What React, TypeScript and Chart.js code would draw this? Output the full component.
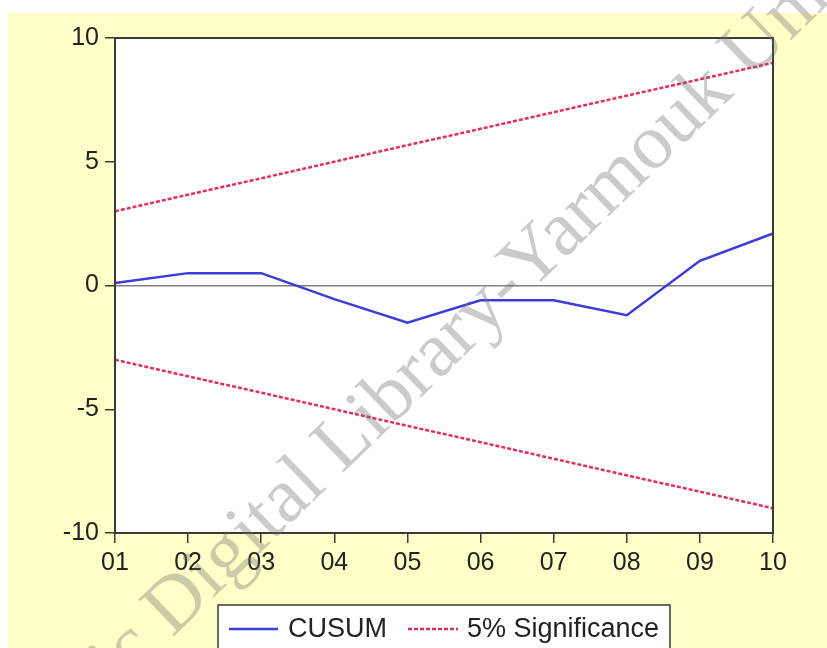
import React, { useEffect, useRef } from "react";
import { Chart, registerables } from "chart.js";

Chart.register(...registerables);

const categories = ["01", "02", "03", "04", "05", "06", "07", "08", "09", "10"];
const cusum = [0.1, 0.5, 0.5, -0.55, -1.5, -0.6, -0.6, -1.2, 1.0, 2.1];
const upper5 = [3.0, 3.67, 4.33, 5.0, 5.67, 6.33, 7.0, 7.67, 8.33, 9.0];
const lower5 = [-3.0, -3.67, -4.33, -5.0, -5.67, -6.33, -7.0, -7.67, -8.33, -9.0];
const yTicks = [-10, -5, 0, 5, 10];
const seriesLabels = ["CUSUM", "5% Significance"];
const watermarkText = ["Arabic ", "Digital Library-Yarmouk University"];

const BLUE = "#3c3cd8";
const RED = "#e0305a";
const FONT = "'Liberation Sans', Arial, sans-serif";

export default function App() {
  const ref = useRef<HTMLCanvasElement | null>(null);

  useEffect(() => {
    const canvas = ref.current;
    if (!canvas) return;

    const bgPlugin = {
      id: "bg",
      beforeDraw(chart: any) {
        const { ctx, chartArea } = chart;
        ctx.save();
        ctx.fillStyle = "#ffffff";
        ctx.fillRect(0, 0, 827, 648);
        ctx.fillStyle = "#ffffc8";
        ctx.fillRect(8, 13, 827, 648);
        ctx.fillStyle = "#ffffff";
        ctx.fillRect(chartArea.left, chartArea.top, chartArea.right - chartArea.left, chartArea.bottom - chartArea.top);
        ctx.restore();
      },
      afterDatasetsDraw(chart: any) {
        const { ctx, chartArea } = chart;
        ctx.save();
        ctx.strokeStyle = "#3a3a3a";
        ctx.lineWidth = 2;
        ctx.strokeRect(chartArea.left, chartArea.top, chartArea.right - chartArea.left, chartArea.bottom - chartArea.top);
        ctx.restore();
      },
      afterDraw(chart: any) {
        const { ctx } = chart;
        const ds = chart.data.datasets;
        // legend
        ctx.save();
        ctx.fillStyle = "#ffffff";
        ctx.fillRect(218, 605, 452, 60);
        ctx.strokeStyle = "#3a3a3a";
        ctx.lineWidth = 1.5;
        ctx.strokeRect(218, 605, 452, 60);
        const ly = 629;
        ctx.lineWidth = 2.5;
        ctx.strokeStyle = ds[0].borderColor;
        ctx.beginPath();
        ctx.moveTo(229, ly);
        ctx.lineTo(278, ly);
        ctx.stroke();
        ctx.strokeStyle = ds[1].borderColor;
        ctx.setLineDash([4, 2]);
        ctx.beginPath();
        ctx.moveTo(408, ly);
        ctx.lineTo(458, ly);
        ctx.stroke();
        ctx.setLineDash([]);
        ctx.fillStyle = "#222";
        ctx.font = `27px ${FONT}`;
        ctx.textBaseline = "middle";
        ctx.fillText(ds[0].label, 288, ly + 1);
        ctx.fillText(ds[1].label, 467, ly + 1);
        ctx.restore();

        // watermark
        ctx.save();
        ctx.translate(172, 638);
        ctx.rotate((-44 * Math.PI) / 180);
        ctx.font = `78px 'Liberation Serif', 'DejaVu Serif', serif`;
        ctx.fillStyle = "rgba(110,110,110,0.36)";
        ctx.textBaseline = "alphabetic";
        ctx.textAlign = "right";
        ctx.fillText(watermarkText[0], 0, 0);
        ctx.textAlign = "left";
        ctx.fillText(watermarkText[1], 0, 0);
        ctx.restore();
      },
    };

    const chart = new Chart(canvas, {
      type: "line",
      data: {
        labels: categories,
        datasets: [
          {
            label: seriesLabels[0],
            data: cusum,
            borderColor: BLUE,
            borderWidth: 2.5,
            pointRadius: 0,
            tension: 0,
            fill: false,
          },
          {
            label: seriesLabels[1],
            data: upper5,
            borderColor: RED,
            borderWidth: 2.5,
            borderDash: [4, 2],
            pointRadius: 0,
            tension: 0,
            fill: false,
          },
          {
            label: "_lower",
            data: lower5,
            borderColor: RED,
            borderWidth: 2.5,
            borderDash: [4, 2],
            pointRadius: 0,
            tension: 0,
            fill: false,
          },
        ],
      },
      options: {
        responsive: false,
        animation: false,
        devicePixelRatio: 1,
        layout: { padding: { left: 0, top: 38, right: 54, bottom: 0 } },
        plugins: { legend: { display: false }, tooltip: { enabled: false } },
        scales: {
          x: {
            type: "category",
            offset: false,
            afterFit(scale: any) {
              scale.height = 115;
            },
            grid: {
              drawOnChartArea: false,
              drawTicks: true,
              tickLength: 10,
              tickColor: "#3a3a3a",
              lineWidth: 1.5,
            },
            border: { display: false },
            ticks: {
              color: "#222",
              font: { family: FONT, size: 25 },
              padding: 5,
              maxRotation: 0,
              autoSkip: false,
            },
          },
          y: {
            min: -10,
            max: 10,
            afterFit(scale: any) {
              scale.width = 115;
            },
            afterBuildTicks(scale: any) {
              scale.ticks = yTicks.map((v) => ({ value: v }));
            },
            grid: {
              drawOnChartArea: true,
              drawTicks: true,
              tickLength: 10,
              tickColor: "#3a3a3a",
              color: (c: any) => (c.tick && c.tick.value === 0 ? "#808080" : "rgba(0,0,0,0)"),
              lineWidth: 1.5,
            },
            border: { display: false },
            ticks: {
              color: "#222",
              font: { family: FONT, size: 25 },
              padding: 6,
              callback: (v: any) => String(v),
            },
          },
        },
      },
      plugins: [bgPlugin],
    });

    return () => chart.destroy();
  }, []);

  return (
    <div style={{ position: "absolute", left: 0, top: 0, width: 827, height: 648 }}>
      <canvas ref={ref} width={827} height={648} style={{ width: 827, height: 648, display: "block" }} />
    </div>
  );
}
